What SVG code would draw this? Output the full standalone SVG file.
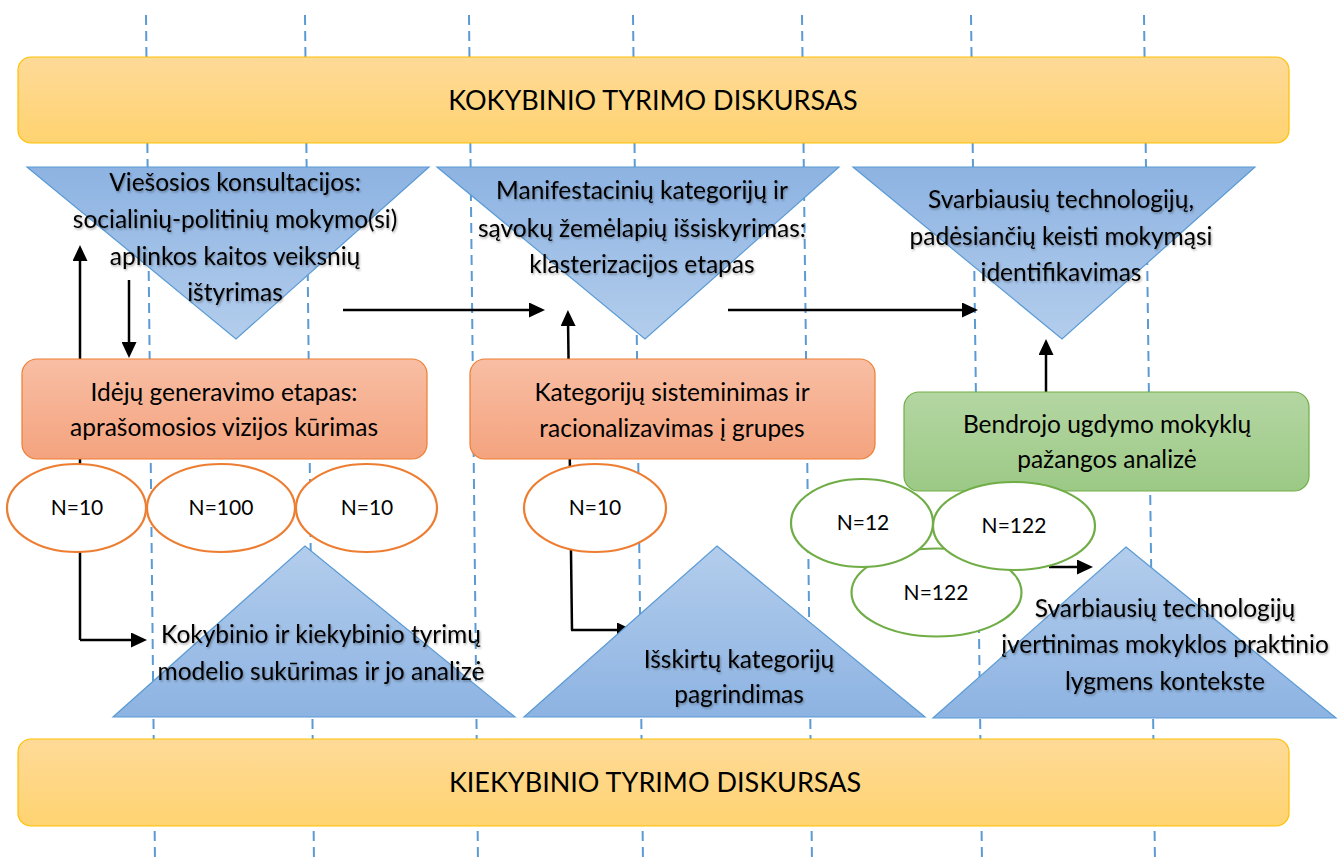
<svg xmlns="http://www.w3.org/2000/svg" width="1341" height="863" viewBox="0 0 1341 863">
<style>
.grid{stroke:#5B9BD5;stroke-width:2;stroke-dasharray:10 6;fill:none}
.conn{stroke:#000;stroke-width:2.5;fill:none}
.banner{fill:url(#gBanner);stroke:#FFC000;stroke-width:1.2}
.obox{fill:url(#gOrange);stroke:#ED7D31;stroke-width:1.2}
.gbox{fill:url(#gGreen);stroke:#70AD47;stroke-width:1.2}
.tdown{fill:url(#gTriDown);stroke:#5B9BD5;stroke-width:1.2}
.tup{fill:url(#gTriUp);stroke:#5B9BD5;stroke-width:1.2}
.oell{fill:#fff;stroke:#ED7D31;stroke-width:2.2}
.gell{fill:#fff;stroke:#70AD47;stroke-width:2.2}
text{font-family:Lato,"Open Sans","Liberation Sans",sans-serif;fill:#000;text-anchor:middle}
.bt{font-size:27px}
.tt{font-size:24.5px;filter:url(#shadow)}
.xt{font-size:24.5px}
.nt{font-size:21px}
</style>
<defs>
<linearGradient id="gBanner" x1="0" y1="0" x2="0" y2="1"><stop offset="0" stop-color="#FEDA98"/><stop offset="1" stop-color="#FFD370"/></linearGradient>
<linearGradient id="gOrange" x1="0" y1="0" x2="0" y2="1"><stop offset="0" stop-color="#F8BEA4"/><stop offset="1" stop-color="#F4A37E"/></linearGradient>
<linearGradient id="gGreen" x1="0" y1="0" x2="0" y2="1"><stop offset="0" stop-color="#B4D6A2"/><stop offset="1" stop-color="#9CC986"/></linearGradient>
<linearGradient id="gTriDown" x1="0" y1="0" x2="0" y2="1"><stop offset="0" stop-color="#8DB3E2"/><stop offset="1" stop-color="#B3CDEC"/></linearGradient>
<linearGradient id="gTriUp" x1="0" y1="0" x2="0" y2="1"><stop offset="0" stop-color="#B3CDEC"/><stop offset="1" stop-color="#8DB3E2"/></linearGradient>
<filter id="shadow" x="-10%" y="-30%" width="120%" height="160%"><feDropShadow dx="1" dy="1.5" stdDeviation="1.2" flood-color="#000" flood-opacity="0.35"/></filter>
<marker id="arr" markerUnits="userSpaceOnUse" markerWidth="16" markerHeight="15" refX="8" refY="7.5" orient="auto"><path d="M0,0 L16,7.5 L0,15 z" fill="#000"/></marker>
</defs>

<g id="gridlines">
<line class="grid" x1="146" y1="15" x2="155" y2="863"/>
<line class="grid" x1="305" y1="15" x2="314" y2="863"/>
<line class="grid" x1="469" y1="15" x2="478" y2="863"/>
<line class="grid" x1="633" y1="15" x2="643" y2="863"/>
<line class="grid" x1="802" y1="15" x2="812" y2="863"/>
<line class="grid" x1="971" y1="15" x2="982" y2="863"/>
<line class="grid" x1="1144" y1="15" x2="1155" y2="863"/>
</g>

<g id="connectors">
<path class="conn" d="M80,640 L80,253" marker-end="url(#arr)"/>
<path class="conn" d="M80,640 L139,640" marker-end="url(#arr)"/>
<path class="conn" d="M129,280 L129,350" marker-end="url(#arr)"/>
<path class="conn" d="M343,310 L537,310" marker-end="url(#arr)"/>
<path class="conn" d="M728,310 L970,310" marker-end="url(#arr)"/>
<path class="conn" d="M572,630 L568,318" marker-end="url(#arr)"/>
<path class="conn" d="M571,630 L625,630" marker-end="url(#arr)"/>
<path class="conn" d="M1046,392 L1046,347" marker-end="url(#arr)"/>
<path class="conn" d="M1049,567 L1085,567" marker-end="url(#arr)"/>
</g>

<g id="banner-top">
<rect class="banner" x="18" y="57" width="1271" height="86" rx="13"/>
<text class="bt" x="653" y="110">KOKYBINIO TYRIMO DISKURSAS</text>
</g>

<g id="banner-bottom">
<rect class="banner" x="18" y="739" width="1271" height="87" rx="13"/>
<text class="bt" x="655" y="792">KIEKYBINIO TYRIMO DISKURSAS</text>
</g>

<g id="tri-consult">
<polygon class="tdown" points="27,167 429,167 236,339"/>
<text class="tt" x="235" y="191">Viešosios konsultacijos:</text>
<text class="tt" x="235" y="228">socialinių-politinių mokymo(si)</text>
<text class="tt" x="235" y="265">aplinkos kaitos veiksnių</text>
<text class="tt" x="235" y="301">ištyrimas</text>
</g>

<g id="tri-manifest">
<polygon class="tdown" points="437,167 839,167 645,339"/>
<text class="tt" x="642" y="199">Manifestacinių kategorijų ir</text>
<text class="tt" x="642" y="237">sąvokų žemėlapių išsiskyrimas:</text>
<text class="tt" x="642" y="273">klasterizacijos etapas</text>
</g>

<g id="tri-tech">
<polygon class="tdown" points="853,167 1255,167 1062,339"/>
<text class="tt" x="1061" y="208">Svarbiausių technologijų,</text>
<text class="tt" x="1061" y="245">padėsiančių keisti mokymąsi</text>
<text class="tt" x="1061" y="281">identifikavimas</text>
</g>

<g id="box-ideas">
<rect class="obox" x="22" y="359" width="405" height="100" rx="15"/>
<text class="xt" x="224" y="401">Idėjų generavimo etapas:</text>
<text class="xt" x="224" y="436">aprašomosios vizijos kūrimas</text>
</g>

<g id="box-categories">
<rect class="obox" x="470" y="359" width="405" height="100" rx="15"/>
<text class="xt" x="672" y="401">Kategorijų sisteminimas ir</text>
<text class="xt" x="672" y="437">racionalizavimas į grupes</text>
</g>

<g id="box-schools">
<rect class="gbox" x="904" y="392" width="405" height="99" rx="15"/>
<text class="xt" x="1107" y="433">Bendrojo ugdymo mokyklų</text>
<text class="xt" x="1107" y="468">pažangos analizė</text>
</g>

<g id="ell-n10-a">
<ellipse class="oell" cx="76.5" cy="508" rx="69.5" ry="44"/>
<text class="nt" x="77" y="515">N=10</text>
</g>
<g id="ell-n100">
<ellipse class="oell" cx="221" cy="508" rx="74" ry="44"/>
<text class="nt" x="221" y="515">N=100</text>
</g>
<g id="ell-n10-b">
<ellipse class="oell" cx="366.5" cy="508" rx="70.5" ry="44"/>
<text class="nt" x="367" y="515">N=10</text>
</g>
<g id="ell-n10-c">
<ellipse class="oell" cx="595" cy="508" rx="71" ry="44"/>
<text class="nt" x="595" y="515">N=10</text>
</g>

<g id="ell-n122-b">
<ellipse class="gell" cx="936.5" cy="592.5" rx="85" ry="44"/>
<text class="nt" x="936" y="600">N=122</text>
</g>
<g id="ell-n12">
<ellipse class="gell" cx="862" cy="523" rx="71" ry="44"/>
<text class="nt" x="863" y="530">N=12</text>
</g>
<g id="ell-n122-a">
<ellipse class="gell" cx="1014" cy="526" rx="81" ry="44"/>
<text class="nt" x="1014" y="533">N=122</text>
</g>

<g id="tri-model">
<polygon class="tup" points="305,546 515,717 113,717"/>
<text class="tt" x="321" y="643">Kokybinio ir kiekybinio tyrimų</text>
<text class="tt" x="321" y="680">modelio sukūrimas ir jo analizė</text>
</g>

<g id="tri-justify">
<polygon class="tup" points="717,546 925,717 524,717"/>
<text class="tt" x="739" y="668">Išskirtų kategorijų</text>
<text class="tt" x="739" y="703">pagrindimas</text>
</g>

<g id="tri-evaluate">
<polygon class="tup" points="1126,547 1336,718 933,718"/>
<text class="tt" x="1165" y="617">Svarbiausių technologijų</text>
<text class="tt" x="1165" y="653">įvertinimas mokyklos praktinio</text>
<text class="tt" x="1165" y="690">lygmens kontekste</text>
</g>
</svg>
